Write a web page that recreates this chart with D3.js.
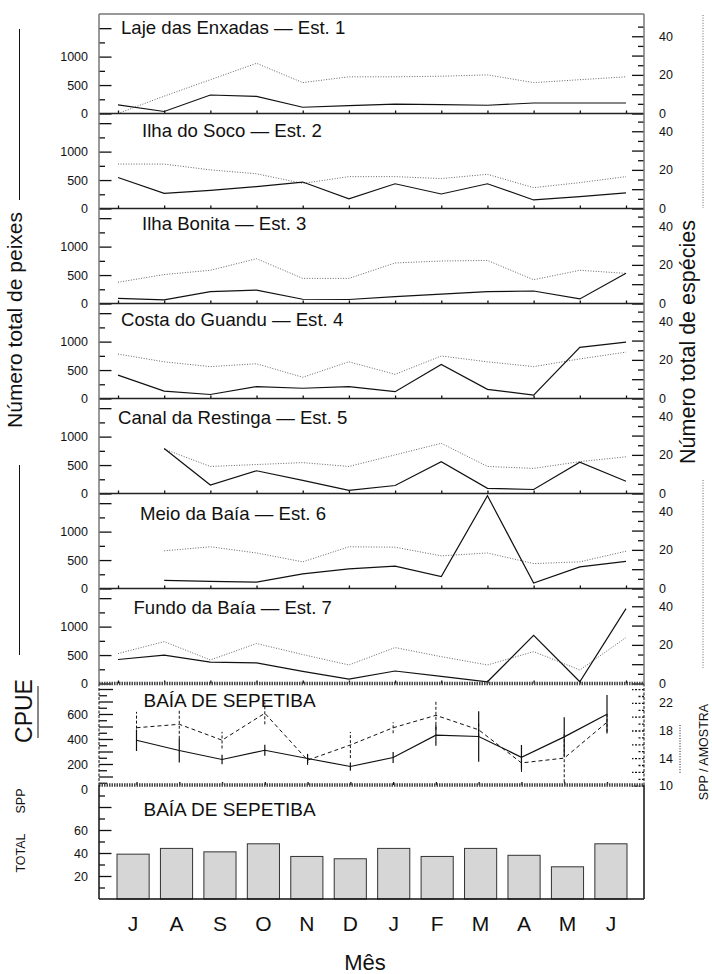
<!DOCTYPE html>
<html>
<head>
<meta charset="utf-8">
<script src="https://cdn.jsdelivr.net/npm/d3@7"></script>
<style>
  body { margin: 0; background: #fff; }
  svg text { font-family: "Liberation Sans", Arial, Helvetica, sans-serif; fill: #111; }
</style>
</head>
<body>
<div id="fig"></div>
<script>
// === valores (jul -> jun) ===
const meses = ["J", "A", "S", "O", "N", "D", "J", "F", "M", "A", "M", "J"];

const estacoes = [
  "Laje das Enxadas — Est. 1", "Ilha do Soco — Est. 2", "Ilha Bonita — Est. 3",
  "Costa do Guandu — Est. 4", "Canal da Restinga — Est. 5", "Meio da Baía — Est. 6",
  "Fundo da Baía — Est. 7"
];

// número total de peixes (linha cheia, eixo esquerdo)
const peixesEst1 = [150, 35, 325, 300, 110, 140, 165, 155, 145, 185, 185, 185];
const peixesEst2 = [545, 265, 320, 385, 465, 170, 435, 255, 435, 150, 210, 275];
const peixesEst3 = [90, 65, 210, 235, 75, 70, 120, 165, 210, 220, 80, 530];
const peixesEst4 = [410, 130, 70, 210, 180, 210, 120, 600, 160, 60, 900, 990];
const peixesEst5 = [null, 790, 150, 400, 230, 55, 140, 560, 90, 70, 550, 215];
const peixesEst6 = [null, 143, 125, 113, 256, 345, 393, 208, 1630, 95, 380, 476];
const peixesEst7 = [422, 500, 375, 363, 214, 77, 220, 125, 30, 845, 30, 1315];

// número total de espécies (pontilhado, eixo direito)
const especiesEst1 = [0, 9, 17.5, 26, 16, 19, 19, 19.3, 20, 16, 17.5, 19];
const especiesEst2 = [23, 23, 20, 18, 13, 16.5, 16.5, 15.5, 17.7, 10.8, 13.4, 16.5];
const especiesEst3 = [11, 15, 17.2, 23.2, 13, 13, 21, 22, 22.3, 12.3, 17.2, 15.6];
const especiesEst4 = [23, 19, 16.5, 18, 11, 19, 12.5, 22, 19, 16.5, 20.5, 24];
const especiesEst5 = [null, 23, 14, 15, 16, 14, 20, 26, 14, 13, 16.5, 19];
const especiesEst6 = [null, 19.5, 21.6, 18.4, 13.8, 21.6, 21.4, 16.9, 18.4, 12.9, 13.8, 19.3];
const especiesEst7 = [15.5, 21.7, 12.2, 20.7, 15, 9.6, 18.6, 13.9, 9.6, 16.5, 7, 23.8];

// Baía de Sepetiba: CPUE (cheia) e SPP / amostra (tracejada), com barras de erro
const cpueMedia = [390, 308, 236, 310, 244, 180, 252, 431, 420, 254, 417, 598];
const cpueErro  = [86, 96, 38, 44, 37, 33, 44, 84, 202, 98, 157, 154];
const sppAmostra = [18.4, 18.9, 16.6, 20.5, 13.7, 15.9, 18.4, 20.2, 18.1, 13.3, 14, 19.2];
const sppErro    = [2.3, 2.1, 1.2, 1.6, 0.7, 1.9, 0.8, 2.1, 1, 1.3, 3.5, 1.4];

// total de espécies por mês (barras)
const totalSpp = [39, 44, 41, 48, 37, 35, 44, 37, 44, 38, 28, 48];

// rótulos dos eixos
const ticksPeixes = [0, 500, 1000];
const ticksEspecies = [0, 20, 40];
const ticksCpue = [0, 200, 400, 600];
const ticksSppAmostra = [10, 14, 18, 22];
const ticksTotal = [20, 40, 60];

// === layout ===
const W = 712, H = 974;
const left = 99, right = 644;
const panelH = 95, firstBottom = 113.5, figTop = 14;
const cpueTop = 683.5, cpueBottom = 785, barBottom = 899;
const titlePos = [[121, 27], [142, 130], [142, 223], [121, 319], [118, 417], [140, 513], [133.5, 607]];

const svg = d3.select("#fig").append("svg")
  .attr("width", W).attr("height", H);

const idx = d3.range(meses.length);
const xLine = d3.scalePoint().domain(idx).range([118, 626]);
const xCpue = d3.scalePoint().domain(idx).range([136.5, 607]);
const xBar = d3.scaleBand().domain(idx).range([117, 627]).paddingInner(0.26);

function styleAxis(sel, size, dash) {
  sel.select(".domain").remove();
  sel.selectAll(".tick line").attr("stroke", "#111").attr("stroke-width", 1.3)
    .attr("stroke-dasharray", dash || null);
  sel.selectAll(".tick text").attr("font-size", size || 12.5).attr("fill", "#111");
}

function hline(y, x1, x2, color, w, dash) {
  svg.append("line").attr("x1", x1).attr("x2", x2).attr("y1", y).attr("y2", y)
    .attr("stroke", color).attr("stroke-width", w).attr("stroke-dasharray", dash || null);
}
function vline(x, y1, y2, color, w, dash) {
  svg.append("line").attr("x1", x).attr("x2", x).attr("y1", y1).attr("y2", y2)
    .attr("stroke", color).attr("stroke-width", w).attr("stroke-dasharray", dash || null);
}

// === painéis das estações ===
const peixes = [peixesEst1, peixesEst2, peixesEst3, peixesEst4, peixesEst5, peixesEst6, peixesEst7];
const especies = [especiesEst1, especiesEst2, especiesEst3, especiesEst4, especiesEst5, especiesEst6, especiesEst7];

estacoes.forEach((nome, k) => {
  const bottom = firstBottom + k * panelH;
  const top = k === 0 ? figTop : bottom - panelH;
  const yL = d3.scaleLinear().domain([0, 1670]).range([bottom, bottom - panelH]);
  const yR = d3.scaleLinear().domain([0, 49.2]).range([bottom, bottom - panelH]);
  const g = svg.append("g");
  const inL = v => yL(v) > top + 3;
  const inR = v => yR(v) > top + 3;

  g.append("g").attr("transform", `translate(${left},0)`)
    .call(d3.axisLeft(yL).tickValues(d3.range(0, 2000, 500).filter(inL)).tickSize(-12.5).tickPadding(11)
      .tickFormat(v => ticksPeixes.includes(v) ? v : ""))
    .call(styleAxis);
  g.append("g").attr("transform", `translate(${left},0)`)
    .call(d3.axisLeft(yL).tickValues(d3.range(250, 2000, 500).filter(inL)).tickSize(-6).tickFormat(""))
    .call(styleAxis);
  g.append("g").attr("transform", `translate(${right},0)`)
    .call(d3.axisRight(yR).tickValues(d3.range(0, 50, 10).filter(inR)).tickSize(-12).tickPadding(15)
      .tickFormat(v => ticksEspecies.includes(v) ? v : ""))
    .call(styleAxis);
  g.append("g").attr("transform", `translate(${right},0)`)
    .call(d3.axisRight(yR).tickValues(d3.range(5, 50, 10).filter(inR)).tickSize(-6).tickFormat(""))
    .call(styleAxis);
  g.append("g").attr("transform", `translate(0,${bottom})`)
    .call(d3.axisBottom(xLine).tickSize(-3).tickFormat(""))
    .call(styleAxis);

  const ptsP = peixes[k].map((v, i) => ({ i, v }));
  const ptsE = especies[k].map((v, i) => ({ i, v }));

  g.append("path").datum(ptsE)
    .attr("d", d3.line().defined(d => d.v != null).x(d => xLine(d.i)).y(d => yR(d.v)))
    .attr("fill", "none").attr("stroke", "#666").attr("stroke-width", 1)
    .attr("stroke-dasharray", "1,1.6");
  g.append("path").datum(ptsP)
    .attr("d", d3.line().defined(d => d.v != null).x(d => xLine(d.i)).y(d => yL(d.v)))
    .attr("fill", "none").attr("stroke", "#111").attr("stroke-width", 1.2);

  g.append("text").attr("x", titlePos[k][0]).attr("y", titlePos[k][1])
    .attr("dominant-baseline", "central").attr("font-size", 18.6).text(nome);

  if (k < 6) hline(bottom, left, right, "#222", 1.7);
});

// === CPUE / SPP por amostra ===
const yC = d3.scaleLinear().domain([0, 800]).range([789, 689]);
const yS = d3.scaleLinear().domain([10, 24]).range([785.7, 689.1]);
const gc = svg.append("g");

gc.append("g").attr("transform", `translate(${left},0)`)
  .call(d3.axisLeft(yC).tickValues(d3.range(100, 900, 100)).tickSize(-14).tickFormat(""))
  .call(styleAxis);
gc.append("g").attr("transform", `translate(${left},0)`)
  .call(d3.axisLeft(yC).tickValues(d3.range(50, 850, 100)).tickSize(-8).tickFormat(""))
  .call(styleAxis);
gc.append("g").attr("transform", `translate(${left},0)`)
  .call(d3.axisLeft(yC).tickValues(ticksCpue).tickSize(0).tickPadding(11))
  .call(styleAxis);
gc.append("g").attr("transform", `translate(${right},0)`)
  .call(d3.axisRight(yS).tickValues(d3.range(10, 25, 2)).tickSize(-12).tickPadding(15)
    .tickFormat(v => ticksSppAmostra.includes(v) ? v : ""))
  .call(styleAxis, 12.5, "2,1.5");
gc.append("g").attr("transform", `translate(${right},0)`)
  .call(d3.axisRight(yS).tickValues(d3.range(11, 25, 2)).tickSize(-6).tickFormat(""))
  .call(styleAxis, 12.5, "2,1.5");
gc.append("g").attr("transform", `translate(0,${cpueBottom})`)
  .call(d3.axisBottom(xCpue).tickSize(-3).tickFormat(""))
  .call(styleAxis);

// barras de erro
gc.selectAll(".errS").data(idx).join("line")
  .attr("x1", i => xCpue(i)).attr("x2", i => xCpue(i))
  .attr("y1", i => yS(sppAmostra[i] - sppErro[i])).attr("y2", i => yS(sppAmostra[i] + sppErro[i]))
  .attr("stroke", "#111").attr("stroke-width", 1).attr("stroke-dasharray", "3,2");
gc.selectAll(".errC").data(idx).join("line")
  .attr("x1", i => xCpue(i)).attr("x2", i => xCpue(i))
  .attr("y1", i => yC(cpueMedia[i] - cpueErro[i])).attr("y2", i => yC(cpueMedia[i] + cpueErro[i]))
  .attr("stroke", "#111").attr("stroke-width", 1.2);

gc.append("path").datum(idx)
  .attr("d", d3.line().x(i => xCpue(i)).y(i => yS(sppAmostra[i])))
  .attr("fill", "none").attr("stroke", "#111").attr("stroke-width", 1).attr("stroke-dasharray", "4,3");
gc.append("path").datum(idx)
  .attr("d", d3.line().x(i => xCpue(i)).y(i => yC(cpueMedia[i])))
  .attr("fill", "none").attr("stroke", "#111").attr("stroke-width", 1.2);

gc.append("text").attr("x", 143.5).attr("y", 700)
  .attr("dominant-baseline", "central").attr("font-size", 19).text("BAÍA DE SEPETIBA");

// === total de espécies (barras) ===
const yB = d3.scaleLinear().domain([0, 100]).range([barBottom, 784]);
const gb = svg.append("g");
gb.append("g").attr("transform", `translate(${left},0)`)
  .call(d3.axisLeft(yB).tickValues([20, 40, 60, 80]).tickSize(-12.5).tickPadding(11)
    .tickFormat(v => ticksTotal.includes(v) ? v : ""))
  .call(styleAxis);
gb.append("g").attr("transform", `translate(${left},0)`)
  .call(d3.axisLeft(yB).tickValues([10, 30, 50, 70, 90]).tickSize(-6).tickFormat(""))
  .call(styleAxis);

gb.selectAll("rect").data(idx).join("rect")
  .attr("x", i => xBar(i)).attr("width", xBar.bandwidth())
  .attr("y", i => yB(totalSpp[i])).attr("height", i => barBottom - yB(totalSpp[i]))
  .attr("fill", "#d6d6d6").attr("stroke", "#333").attr("stroke-width", 1);

gb.append("text").attr("x", 143.5).attr("y", 809)
  .attr("dominant-baseline", "central").attr("font-size", 19).text("BAÍA DE SEPETIBA");

gb.selectAll(".mes").data(idx).join("text")
  .attr("x", i => xBar(i) + xBar.bandwidth() / 2).attr("y", 923)
  .attr("text-anchor", "middle").attr("dominant-baseline", "central")
  .attr("font-size", 21).text(i => meses[i]);

svg.append("text").attr("x", 365).attr("y", 962)
  .attr("text-anchor", "middle").attr("dominant-baseline", "central")
  .attr("font-size", 22).text("Mês");

// === molduras ===
hline(figTop, left, right, "#777", 1.5);
vline(left, figTop, cpueTop, "#777", 1.5);
vline(right, figTop, cpueTop, "#777", 1.5);
vline(left, cpueTop, cpueBottom, "#333", 1.2, "3,1.5");
vline(right, cpueTop, cpueBottom, "#333", 1.2, "3,1.5");
hline(cpueTop, left, right, "#444", 3.5, "1.5,1");
hline(cpueBottom, left, right, "#444", 3.5, "1.5,1");
vline(left, cpueBottom, barBottom, "#111", 1.5);
vline(right, cpueBottom, barBottom, "#111", 1.5);
hline(barBottom, left, right, "#111", 1.5);

// === títulos dos eixos e legendas ===
function vtext(x, y, size, txt) {
  svg.append("text").attr("x", x).attr("y", y)
    .attr("transform", `rotate(-90,${x},${y})`)
    .attr("text-anchor", "middle").attr("dominant-baseline", "central")
    .attr("font-size", size).text(txt);
}
vtext(14, 320, 21, "Número total de peixes");
vline(19.5, 29, 200, "#111", 1);
vline(19.5, 465, 655, "#111", 1);

vtext(688, 342, 21.5, "Número total de espécies");
vline(703, 15, 208, "#666", 1, "1,1.6");
vline(703, 480, 668, "#666", 1, "1,1.6");

vtext(24, 711, 23, "CPUE");
vline(38, 686, 738, "#111", 1);

vtext(21, 853, 12.5, "TOTAL");
vtext(21, 801, 12.5, "SPP");

vtext(704, 752, 12.5, "SPP / AMOSTRA");
vline(680, 725, 773, "#111", 1, "1,1.6");
</script>
</body>
</html>
